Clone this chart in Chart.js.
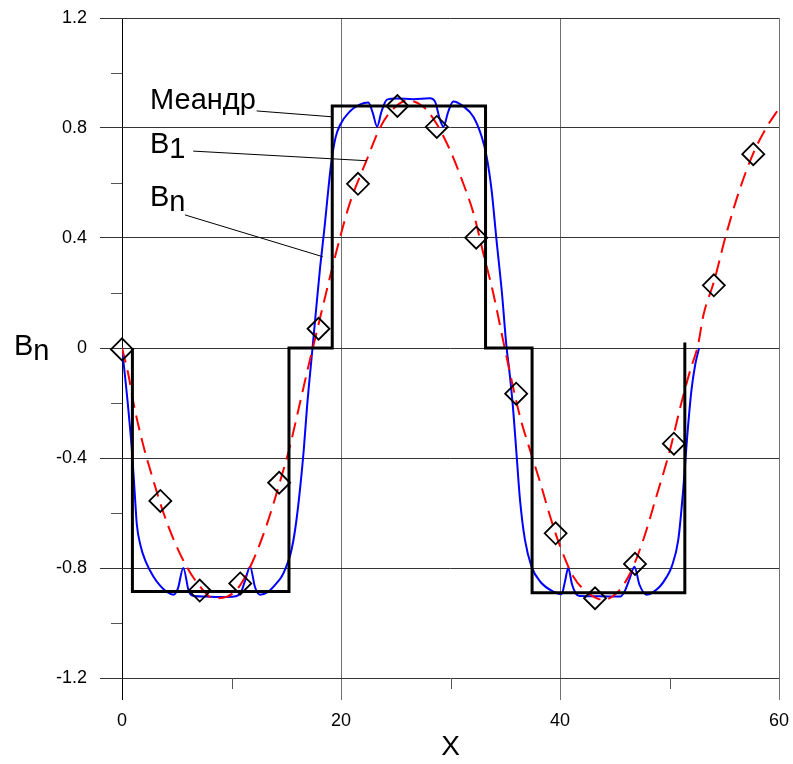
<!DOCTYPE html>
<html>
<head>
<meta charset="utf-8">
<title>Меандр</title>
<script src="https://cdn.jsdelivr.net/npm/chart.js@4.4.0/dist/chart.umd.min.js"></script>
<style>
  html, body { margin: 0; padding: 0; background: #fff; }
  canvas { display: block; }
</style>
</head>
<body>
<canvas id="chart" width="793" height="764"></canvas>
<script>
// axis ticks
const xTicks = [0, 20, 40, 60];
const xMinor = [10, 30, 50];
const yTicks = [-1.2, -0.8, -0.4, 0, 0.4, 0.8, 1.2];
const yMinor = [-1.0, -0.6, -0.2, 0.2, 0.6, 1.0];

// square wave (meander)
const meanderX = [0.95, 0.95, 15.25, 15.25, 19.2, 19.2, 33.2, 33.2, 37.45, 37.45, 51.4, 51.4];
const meanderY = [0, -0.885, -0.885, 0, 0, 0.88, 0.88, 0, 0, -0.89, -0.89, 0.02];

// first harmonic B1
const b1X = [0, 0.6, 1.05, 1.95, 2.85, 3.75, 4.7, 5.9, 7.1, 8.35, 9.55, 10.8, 12.0, 13.2, 14.4,
  15.35, 16.25, 17.15, 17.55, 18.85, 19.9, 20.8, 22.35, 23.55, 24.5, 26.1, 27.5, 28.7, 29.95,
  31.15, 32.1, 33.0, 33.9, 35.0, 36.35, 37.25, 38.2, 39.1, 40.0, 41.2, 42.4, 43.95, 45.2, 46.4,
  47.6, 48.8, 50.05, 51.0, 51.9, 52.6, 53.1, 54.05, 55.2, 56.4, 57.65, 58.9, 60];
const b1Y = [0, -0.1, -0.2, -0.355, -0.48, -0.595, -0.695, -0.795, -0.866, -0.91, -0.905, -0.862,
  -0.77, -0.645, -0.49, -0.355, -0.2, -0.045, 0.02, 0.235, 0.4, 0.526, 0.684, 0.8, 0.858, 0.9,
  0.878, 0.817, 0.72, 0.6, 0.49, 0.344, 0.2, -0.01, -0.25, -0.37, -0.49, -0.613, -0.72, -0.83,
  -0.886, -0.916, -0.89, -0.82, -0.698, -0.54, -0.37, -0.213, -0.08, 0.01, 0.12, 0.24, 0.417,
  0.575, 0.708, 0.805, 0.871];

// partial sum Bn
const bnX = [0, 0.5, 0.9, 1.15, 1.35, 1.7, 2.15, 2.85, 3.5, 4.1, 4.7, 5.1, 5.6, 6.1, 6.6, 7.6,
  8.6, 9.6, 10.4, 10.85, 11.25, 11.7, 12.15, 12.6, 13.3, 14.1, 14.6, 15.0, 15.35, 15.65, 15.95,
  16.25, 16.6, 16.9, 17.4, 17.75, 18.1, 18.5, 18.8, 19.1, 19.5, 19.9, 20.8, 21.7, 22.5, 22.9,
  23.3, 23.7, 24.2, 25.1, 26.6, 28.1, 28.6, 29.0, 29.35, 29.8, 30.25, 31.2, 32.1, 32.85, 33.3,
  33.75, 34.2, 34.7, 35.1, 35.4, 35.7, 36.0, 36.35, 36.8, 37.4, 38.2, 39.4, 40.15, 40.45, 40.75,
  41.1, 41.45, 41.8, 43.6, 45.5, 45.9, 46.35, 46.8, 47.25, 47.9, 49.1, 49.7, 50.2, 50.8, 51.25,
  51.6, 52.0, 52.35, 52.7];
const bnY = [0, -0.19, -0.37, -0.52, -0.64, -0.72, -0.775, -0.83, -0.865, -0.887, -0.897, -0.875,
  -0.8, -0.885, -0.902, -0.904, -0.905, -0.905, -0.903, -0.89, -0.845, -0.795, -0.87, -0.897,
  -0.888, -0.856, -0.83, -0.795, -0.755, -0.7, -0.62, -0.516, -0.37, -0.213, 0, 0.15, 0.296,
  0.44, 0.56, 0.67, 0.765, 0.81, 0.86, 0.885, 0.893, 0.855, 0.805, 0.86, 0.903, 0.907, 0.905,
  0.908, 0.895, 0.835, 0.805, 0.86, 0.896, 0.878, 0.84, 0.768, 0.696, 0.575, 0.393, 0.199, 0.01,
  -0.092, -0.213, -0.37, -0.553, -0.698, -0.795, -0.85, -0.886, -0.895, -0.85, -0.8, -0.86,
  -0.893, -0.902, -0.903, -0.904, -0.885, -0.84, -0.795, -0.86, -0.897, -0.868, -0.835, -0.795,
  -0.698, -0.516, -0.33, -0.155, -0.06, 0];

// sampled points (diamonds)
const markerX = [0, 3.5, 7.1, 10.8, 14.35, 17.95, 21.55, 25.15, 28.75, 32.35, 36.0, 39.6, 43.2,
  46.85, 50.4, 54.05, 57.65];
const markerY = [-0.005, -0.556, -0.882, -0.856, -0.49, 0.07, 0.597, 0.88, 0.804, 0.401, -0.166,
  -0.674, -0.91, -0.785, -0.348, 0.228, 0.705];

// curve captions with leader lines, in data coordinates
const callouts = [
  { text: ['Меандр'], at: [2.56, 0.868], from: [12.3, 0.862], to: [19.1, 0.841] },
  { text: ['B', '1'], at: [2.56, 0.708], from: [6.5, 0.716], to: [22.35, 0.681] },
  { text: ['B', 'n'], at: [2.56, 0.516], from: [5.75, 0.484], to: [18.33, 0.332] },
];

const FONT = "'Liberation Sans', Arial, sans-serif";
Chart.defaults.font.family = FONT;
Chart.defaults.color = '#000';

const toPoints = (xs, ys) => xs.map((x, i) => ({ x, y: ys[i] }));

// text with a lowered second part (subscript-like)
const drawSub = (ctx, parts, x, y) => {
  ctx.fillText(parts[0], x, y);
  if (parts[1]) ctx.fillText(parts[1], x + ctx.measureText(parts[0]).width, y + 5);
};

const minorTicks = {
  id: 'minorTicks',
  afterDraw(chart) {
    const { ctx, scales: { x, y } } = chart;
    ctx.save();
    ctx.strokeStyle = '#555';
    ctx.lineWidth = 1;
    ctx.beginPath();
    xMinor.forEach(v => {
      const px = Math.round(x.getPixelForValue(v)) + 0.5;
      ctx.moveTo(px, x.top);
      ctx.lineTo(px, x.top + 11);
    });
    yMinor.forEach(v => {
      const py = Math.round(y.getPixelForValue(v)) + 0.5;
      ctx.moveTo(y.right - 11, py);
      ctx.lineTo(y.right, py);
    });
    ctx.stroke();
    ctx.restore();
  }
};

const captions = {
  id: 'captions',
  afterDraw(chart) {
    const { ctx, scales: { x, y } } = chart;
    ctx.save();
    ctx.font = '29px ' + FONT;
    ctx.fillStyle = '#000';
    ctx.textBaseline = 'alphabetic';
    ctx.textAlign = 'left';
    callouts.forEach(c => {
      drawSub(ctx, c.text, x.getPixelForValue(c.at[0]), y.getPixelForValue(c.at[1]));
      ctx.beginPath();
      ctx.strokeStyle = '#000';
      ctx.lineWidth = 1;
      ctx.moveTo(x.getPixelForValue(c.from[0]), y.getPixelForValue(c.from[1]));
      ctx.lineTo(x.getPixelForValue(c.to[0]), y.getPixelForValue(c.to[1]));
      ctx.stroke();
    });
    // y axis title, written horizontally
    drawSub(ctx, ['B', 'n'], y.left + 14, y.getPixelForValue(0) + 7);
    ctx.restore();
  }
};

new Chart(document.getElementById('chart'), {
  type: 'scatter',
  data: {
    datasets: [
      {
        label: 'points',
        data: toPoints(markerX, markerY),
        pointStyle: 'rectRot',
        pointRadius: 11,
        borderWidth: 1.8,
        borderColor: '#000',
        backgroundColor: 'rgba(0,0,0,0)',
        showLine: false,
        clip: false
      },
      {
        label: 'Меандр',
        data: toPoints(meanderX, meanderY),
        showLine: true,
        borderColor: '#000',
        borderWidth: 3,
        borderJoinStyle: 'miter',
        pointRadius: 0,
        tension: 0
      },
      {
        label: 'B1',
        data: toPoints(b1X, b1Y),
        showLine: true,
        borderColor: '#ff0000',
        borderWidth: 2,
        borderDash: [15, 8],
        pointRadius: 0,
        cubicInterpolationMode: 'monotone'
      },
      {
        label: 'Bn',
        data: toPoints(bnX, bnY),
        showLine: true,
        borderColor: '#0000ff',
        borderWidth: 2,
        pointRadius: 0,
        cubicInterpolationMode: 'monotone'
      }
    ]
  },
  options: {
    responsive: false,
    animation: false,
    events: [],
    layout: { padding: { top: 18, right: 14, bottom: 0, left: 0 } },
    plugins: {
      legend: { display: false },
      tooltip: { enabled: false }
    },
    scales: {
      x: {
        type: 'linear',
        min: 0,
        max: 60,
        afterBuildTicks: s => { s.ticks = xTicks.map(value => ({ value })); },
        afterFit: s => {
          s.height = 86;
          s.paddingLeft = 0;
          s.paddingRight = 0;
        },
        border: { display: false },
        grid: {
          color: ctx => (ctx.tick && ctx.tick.value === 0 ? '#000' : '#707070'),
          lineWidth: 1,
          tickLength: 22
        },
        ticks: { font: { size: 18 }, padding: 10, maxRotation: 0 },
        title: { display: true, text: 'X', font: { size: 28 }, padding: { top: 0, bottom: 0 } }
      },
      y: {
        type: 'linear',
        min: -1.2,
        max: 1.2,
        afterBuildTicks: s => { s.ticks = yTicks.map(value => ({ value })); },
        afterFit: s => {
          s.width = 122;
          s.paddingTop = 0;
          s.paddingBottom = 0;
        },
        border: { display: false },
        grid: { color: '#333', lineWidth: 1, tickLength: 22 },
        ticks: {
          font: { size: 18 },
          padding: 13,
          callback: v => String(Math.round(v * 10) / 10)
        }
      }
    }
  },
  plugins: [minorTicks, captions]
});
</script>
</body>
</html>
